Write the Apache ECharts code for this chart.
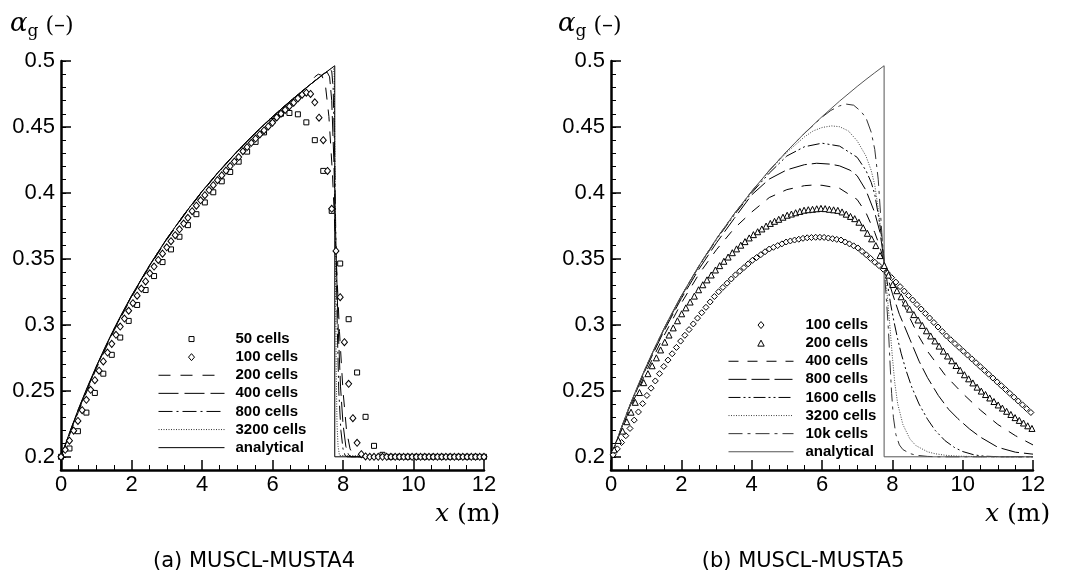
<!DOCTYPE html>
<html>
<head>
<meta charset="utf-8">
<script src="https://cdn.jsdelivr.net/npm/echarts/dist/echarts.min.js"></script>
<style>
  html, body { margin: 0; padding: 0; background: #fff; }
  #chart { width: 1067px; height: 574px; }
</style>
</head>
<body>
<div id="chart"></div>
<script>
// Water-faucet test: gas volume fraction along the pipe, two MUSCL-MUSTA schemes.

// Axis ticks
const yMajorTicks = [0.2, 0.25, 0.3, 0.35, 0.4, 0.45, 0.5];
const yMinorTicks = [];
for (let k = 19; k <= 50; k++) yMinorTicks.push(k / 100);

// Analytical profile (same in both panels)
const anX = [0, 0.25, 0.5, 0.75, 1, 1.25, 1.5, 1.75, 2, 2.5, 3, 3.5, 4, 4.5, 5, 5.5, 6, 6.5, 7, 7.25, 7.5, 7.766, 7.766, 12];
const anY = [0.2, 0.2189, 0.2366, 0.2531, 0.2685, 0.2831, 0.2968, 0.3098, 0.3220, 0.3447, 0.3653, 0.3840, 0.4012, 0.4170, 0.4316, 0.4452, 0.4578, 0.4696, 0.4807, 0.4860, 0.4911, 0.4964, 0.2, 0.2];

// ---- (a) MUSCL-MUSTA4 ----
const a50Dx = 0.24;
const a50 = [
  0.2000, 0.2063, 0.2194, 0.2335, 0.2484, 0.2630, 0.2773, 0.2904, 0.3030, 0.3151,
  0.3264, 0.3370, 0.3476, 0.3572, 0.3668, 0.3756, 0.3839, 0.3928, 0.4005, 0.4088,
  0.4159, 0.4237, 0.4313, 0.4387, 0.4459, 0.4545, 0.4600, 0.4606, 0.4596, 0.4535,
  0.4400, 0.4167, 0.3864, 0.3465, 0.3043, 0.2639, 0.2303, 0.2083, 0.2015, 0.2000,
  0.2000, 0.2000, 0.2000, 0.2000, 0.2000, 0.2000, 0.2000, 0.2000, 0.2000, 0.2000,
  0.2000
];
const a100Dx = 0.12;
const a100 = [
  0.2000, 0.2053, 0.2122, 0.2198, 0.2272, 0.2353, 0.2432, 0.2508, 0.2581, 0.2653,
  0.2723, 0.2790, 0.2856, 0.2925, 0.2987, 0.3048, 0.3107, 0.3164, 0.3221, 0.3275,
  0.3329, 0.3391, 0.3442, 0.3492, 0.3540, 0.3588, 0.3634, 0.3680, 0.3724, 0.3768,
  0.3811, 0.3862, 0.3903, 0.3944, 0.3983, 0.4022, 0.4059, 0.4097, 0.4133, 0.4169,
  0.4204, 0.4238, 0.4272, 0.4316, 0.4348, 0.4380, 0.4412, 0.4443, 0.4474, 0.4504,
  0.4533, 0.4572, 0.4601, 0.4629, 0.4657, 0.4684, 0.4716, 0.4745, 0.4760, 0.4750,
  0.4687, 0.4570, 0.4400, 0.4167, 0.3880, 0.3560, 0.3210, 0.2869, 0.2553, 0.2293,
  0.2106, 0.2020, 0.2003, 0.2000, 0.2000, 0.2000, 0.2000, 0.2000, 0.2000, 0.2000,
  0.2000, 0.2000, 0.2000, 0.2000, 0.2000, 0.2000, 0.2000, 0.2000, 0.2000, 0.2000,
  0.2000, 0.2000, 0.2000, 0.2000, 0.2000, 0.2000, 0.2000, 0.2000, 0.2000, 0.2000,
  0.2000
];
const a200 = [[0,0.2],[0.25,0.2170],[0.5,0.2345],[1,0.2668],[1.5,0.2954],[2,0.3208],[2.5,0.3437],[3,0.3645],[3.5,0.3833],[4,0.4006],[4.5,0.4165],[5,0.4312],[5.5,0.4449],[6,0.4575],[6.5,0.4694],[7,0.4806],[7.2,0.4880],[7.3,0.4900],[7.4,0.4890],[7.5,0.4820],[7.6,0.4580],[7.7,0.4150],[7.8,0.3550],[7.9,0.2950],[8.0,0.2500],[8.1,0.2200],[8.2,0.2060],[8.3,0.2010],[8.4,0.2000],[12,0.2]];
const a400 = [[0,0.2],[0.25,0.2180],[0.5,0.2356],[1,0.2677],[1.5,0.2962],[2,0.3215],[2.5,0.3443],[3,0.3650],[3.5,0.3837],[4,0.4010],[4.5,0.4168],[5,0.4314],[5.5,0.4451],[6,0.4577],[6.5,0.4695],[7,0.4806],[7.3,0.4872],[7.45,0.4905],[7.55,0.4915],[7.62,0.4880],[7.68,0.4700],[7.74,0.4250],[7.8,0.3600],[7.86,0.3000],[7.93,0.2530],[8.0,0.2250],[8.08,0.2080],[8.15,0.2020],[8.22,0.2000],[12,0.2]];
const a800 = [[0,0.2],[0.25,0.2186],[0.5,0.2362],[1,0.2682],[1.5,0.2966],[2,0.3218],[2.5,0.3445],[3,0.3652],[3.5,0.3839],[4,0.4011],[4.5,0.4169],[5,0.4315],[5.5,0.4452],[6,0.4578],[6.5,0.4696],[7,0.4807],[7.5,0.4910],[7.62,0.4932],[7.68,0.4925],[7.72,0.4800],[7.76,0.4350],[7.8,0.3600],[7.84,0.2950],[7.88,0.2500],[7.94,0.2200],[8.0,0.2060],[8.06,0.2010],[8.12,0.2000],[12,0.2]];
const a3200 = [[0,0.2],[0.5,0.2366],[1,0.2685],[1.5,0.2968],[2,0.3220],[2.5,0.3447],[3,0.3653],[3.5,0.3840],[4,0.4012],[4.5,0.4170],[5,0.4316],[5.5,0.4452],[6,0.4578],[6.5,0.4696],[7,0.4807],[7.5,0.4911],[7.72,0.4955],[7.75,0.4900],[7.77,0.4300],[7.79,0.3300],[7.81,0.2600],[7.83,0.2250],[7.86,0.2080],[7.9,0.2010],[7.95,0.2000],[12,0.2]];

// ---- (b) MUSCL-MUSTA5 ----
const b100X0 = 0.06, b100Dx = 0.12;
const b100 = [
  0.2015, 0.2060, 0.2108, 0.2160, 0.2215, 0.2278, 0.2340, 0.2403, 0.2465, 0.2520,
  0.2575, 0.2630, 0.2685, 0.2733, 0.2781, 0.2829, 0.2877, 0.2921, 0.2964, 0.3007,
  0.3051, 0.3092, 0.3133, 0.3174, 0.3215, 0.3251, 0.3284, 0.3316, 0.3348, 0.3379,
  0.3407, 0.3434, 0.3462, 0.3489, 0.3510, 0.3532, 0.3554, 0.3575, 0.3588, 0.3601,
  0.3614, 0.3628, 0.3636, 0.3643, 0.3649, 0.3656, 0.3660, 0.3662, 0.3664, 0.3664,
  0.3663, 0.3658, 0.3653, 0.3648, 0.3643, 0.3628, 0.3614, 0.3599, 0.3583, 0.3557,
  0.3531, 0.3504, 0.3475, 0.3449, 0.3422, 0.3392, 0.3358, 0.3324, 0.3290, 0.3256,
  0.3222, 0.3188, 0.3154, 0.3120, 0.3086, 0.3052, 0.3018, 0.2984, 0.2950, 0.2916,
  0.2887, 0.2858, 0.2829, 0.2800, 0.2771, 0.2742, 0.2713, 0.2684, 0.2655, 0.2626,
  0.2597, 0.2568, 0.2539, 0.2510, 0.2481, 0.2452, 0.2423, 0.2394, 0.2365, 0.2336
];
const b200X0 = 0.09, b200Dx = 0.12;
const b200 = [
  0.2053, 0.2124, 0.2195, 0.2266, 0.2338, 0.2413, 0.2487, 0.2562, 0.2630, 0.2690,
  0.2750, 0.2810, 0.2869, 0.2923, 0.2977, 0.3031, 0.3084, 0.3129, 0.3173, 0.3218,
  0.3266, 0.3304, 0.3341, 0.3378, 0.3416, 0.3449, 0.3482, 0.3514, 0.3547, 0.3576,
  0.3604, 0.3631, 0.3659, 0.3684, 0.3706, 0.3727, 0.3749, 0.3769, 0.3785, 0.3800,
  0.3816, 0.3831, 0.3840, 0.3850, 0.3860, 0.3869, 0.3873, 0.3876, 0.3880, 0.3883,
  0.3881, 0.3876, 0.3872, 0.3868, 0.3856, 0.3839, 0.3822, 0.3805, 0.3778, 0.3736,
  0.3694, 0.3652, 0.3601, 0.3525, 0.3450, 0.3377, 0.3306, 0.3259, 0.3213, 0.3166,
  0.3119, 0.3078, 0.3037, 0.2996, 0.2955, 0.2916, 0.2878, 0.2839, 0.2801, 0.2764,
  0.2728, 0.2692, 0.2656, 0.2622, 0.2591, 0.2560, 0.2528, 0.2498, 0.2472, 0.2446,
  0.2419, 0.2393, 0.2369, 0.2345, 0.2321, 0.2297, 0.2276, 0.2256, 0.2235, 0.2215
];
const b400 = [[0,0.2],[0.25,0.2175],[0.5,0.2340],[1,0.2645],[1.5,0.2915],[2,0.3165],[2.5,0.3385],[3,0.3570],[3.5,0.3730],[4,0.3855],[4.5,0.3965],[5,0.4025],[5.5,0.4055],[5.75,0.4060],[6,0.4058],[6.5,0.4035],[7,0.3950],[7.25,0.3850],[7.5,0.3700],[7.65,0.3590],[7.77,0.3470],[8,0.3345],[8.25,0.3200],[8.5,0.3050],[8.75,0.2915],[9,0.2800],[9.5,0.2620],[10,0.2480],[10.5,0.2355],[11,0.2245],[11.5,0.2160],[12,0.2090]];
const b800 = [[0,0.2],[0.25,0.2183],[0.5,0.2358],[1,0.2672],[1.5,0.2950],[2,0.3200],[2.5,0.3422],[3,0.3622],[3.5,0.3805],[4,0.3985],[4.5,0.4105],[5,0.4175],[5.5,0.4214],[5.85,0.4225],[6.25,0.4218],[6.5,0.4205],[6.8,0.4172],[7,0.4130],[7.25,0.4020],[7.5,0.3850],[7.65,0.3700],[7.77,0.3480],[7.9,0.3330],[8.0,0.3240],[8.2,0.3080],[8.35,0.2986],[8.5,0.2890],[8.76,0.2725],[9,0.2600],[9.31,0.2464],[9.6,0.2360],[9.86,0.2290],[10.2,0.2210],[10.5,0.2150],[11,0.2072],[11.5,0.2035],[12,0.2020]];
const b1600 = [[0,0.2],[0.25,0.2188],[0.5,0.2364],[1,0.2682],[1.5,0.2964],[2,0.3216],[2.5,0.3442],[3,0.3647],[3.5,0.3832],[4,0.4000],[4.5,0.4150],[5,0.4280],[5.5,0.4350],[6,0.4377],[6.5,0.4355],[7,0.4270],[7.25,0.4170],[7.4,0.4080],[7.5,0.3990],[7.6,0.3835],[7.7,0.3660],[7.77,0.3490],[7.85,0.3330],[7.95,0.3160],[8.05,0.3020],[8.15,0.2895],[8.25,0.2785],[8.39,0.2655],[8.55,0.2530],[8.76,0.2400],[9,0.2285],[9.22,0.2200],[9.5,0.2122],[9.77,0.2070],[10,0.2040],[10.32,0.2015],[10.6,0.2005],[11,0.2001],[12,0.2]];
const b3200 = [[0,0.2],[0.5,0.2366],[1,0.2685],[1.5,0.2968],[2,0.3220],[2.5,0.3447],[3,0.3653],[3.5,0.3839],[4,0.4010],[4.5,0.4167],[5,0.4308],[5.5,0.4425],[5.75,0.4470],[6,0.4496],[6.27,0.4508],[6.5,0.4502],[6.75,0.4470],[7,0.4395],[7.25,0.4280],[7.4,0.4170],[7.5,0.4060],[7.6,0.3880],[7.7,0.3640],[7.77,0.3480],[7.85,0.3240],[7.94,0.2960],[8.0,0.2760],[8.07,0.2560],[8.15,0.2405],[8.3,0.2245],[8.5,0.2135],[8.67,0.2085],[9,0.2038],[9.22,0.2023],[9.5,0.2012],[9.86,0.2005],[10.5,0.2001],[12,0.2]];
const b10k = [[0,0.2],[0.5,0.2366],[1,0.2685],[1.5,0.2968],[2,0.3220],[2.5,0.3447],[3,0.3653],[3.5,0.3840],[4,0.4012],[4.5,0.4170],[5,0.4316],[5.5,0.4451],[6,0.4574],[6.25,0.4625],[6.5,0.4660],[6.7,0.4673],[6.9,0.4665],[7.1,0.4620],[7.25,0.4570],[7.4,0.4460],[7.5,0.4330],[7.6,0.4100],[7.7,0.3700],[7.77,0.3420],[7.85,0.3120],[7.89,0.2957],[7.94,0.2680],[7.98,0.2480],[8.03,0.2300],[8.1,0.2170],[8.2,0.2090],[8.3,0.2055],[8.5,0.2025],[8.67,0.2012],[9,0.2003],[9.3,0.2],[12,0.2]];

// ---------- helpers ----------
const pairs = (xs, ys) => xs.map((x, i) => [x, ys[i]]);
const cells = (x0, dx, ys) => ys.map((y, i) => [+(x0 + i * dx).toFixed(3), y]);

function lineSeries(name, panel, data, dash, color) {
  return {
    type: 'line', name, xAxisIndex: panel, yAxisIndex: panel * 2, data,
    symbol: 'none', showSymbol: false, silent: true, z: 2,
    lineStyle: { color, width: 1, type: dash, cap: 'butt' },
    itemStyle: { color }
  };
}
function markerSeries(name, panel, data, symbol, size) {
  return {
    type: 'scatter', name, xAxisIndex: panel, yAxisIndex: panel * 2, data,
    symbol, symbolSize: size, symbolKeepAspect: true, silent: true, z: 3,
    itemStyle: { color: '#fff', borderColor: '#000', borderWidth: 1, opacity: 1 }
  };
}

const tickFont = { color: '#000', fontFamily: 'Liberation Sans, Arial, sans-serif', fontSize: 22 };
function xAxis(grid) {
  return {
    gridIndex: grid, type: 'value', min: 0, max: 12, interval: 2,
    axisLine: { show: true, onZero: false, lineStyle: { color: '#000', width: 2.5 } },
    axisTick: { show: true, inside: true, length: 10, lineStyle: { color: '#000', width: 1.5 } },
    minorTick: { show: true, splitNumber: 4, length: 5, lineStyle: { color: '#000', width: 1 } },
    splitLine: { show: false }, minorSplitLine: { show: false },
    axisLabel: Object.assign({ margin: 4 }, tickFont)
  };
}
function yAxes(grid) {
  return [{
    gridIndex: grid, type: 'value', position: 'left', min: 0.19, max: 0.5,
    axisLine: { show: true, onZero: false, lineStyle: { color: '#000', width: 2.5 } },
    axisTick: { show: true, inside: true, length: 10, customValues: yMajorTicks, lineStyle: { color: '#000', width: 1.5 } },
    axisLabel: Object.assign({ margin: 6, customValues: yMajorTicks, formatter: v => String(Math.round(v * 100) / 100) }, tickFont),
    splitLine: { show: false }
  }, {
    gridIndex: grid, type: 'value', position: 'left', min: 0.19, max: 0.5,
    axisLine: { show: false },
    axisTick: { show: true, inside: true, length: 5, customValues: yMinorTicks, lineStyle: { color: '#000', width: 1 } },
    axisLabel: { show: false },
    splitLine: { show: false }
  }];
}

// Legend keys: marker glyphs are drawn as small paths centred in the key box
const KEY_H = 7;
function keyIcon(w, shape) {
  const c = w / 2;
  const frame = `M0,0M${w},${KEY_H}`;
  if (shape === 'rect') return `path://${frame}M${c - 2.5},1L${c + 2.5},1L${c + 2.5},6L${c - 2.5},6Z`;
  if (shape === 'diamond') return `path://${frame}M${c},0L${c + 3},3.5L${c},7L${c - 3},3.5Z`;
  return `path://${frame}M${c},0.5L${c + 3.2},6.5L${c - 3.2},6.5Z`;
}
const stripPanel = n => n.replace(/ \([ab]\)$/, '');
const legendBase = {
  orient: 'vertical', itemHeight: KEY_H, itemGap: 0, padding: 0, selectedMode: false,
  formatter: stripPanel,
  lineStyle: { width: 1 }, itemStyle: { borderWidth: 1 },
  textStyle: { fontFamily: 'Liberation Sans, Arial, sans-serif', fontWeight: 'bold', fontSize: 15, color: '#000', lineHeight: 18.1 }
};
const lineItem = name => ({ name, itemStyle: { opacity: 0 } });
const markItem = (name, w, shape) => ({ name, icon: keyIcon(w, shape) });

const series = [
  // panel (a)
  lineSeries('200 cells (a)', 0, a200, [12, 10], '#000'),
  lineSeries('400 cells (a)', 0, a400, [20, 6], '#000'),
  lineSeries('800 cells (a)', 0, a800, [14, 4, 2, 4], '#000'),
  lineSeries('3200 cells (a)', 0, a3200, [1, 1.5], '#333'),
  lineSeries('analytical (a)', 0, pairs(anX, anY), 'solid', '#000'),
  markerSeries('50 cells (a)', 0, cells(0, a50Dx, a50), 'rect', 5),
  markerSeries('100 cells (a)', 0, cells(0, a100Dx, a100), 'diamond', [6, 7]),
  // panel (b)
  lineSeries('400 cells (b)', 1, b400, [10, 9], '#000'),
  lineSeries('800 cells (b)', 1, b800, [18, 5], '#000'),
  lineSeries('1600 cells (b)', 1, b1600, [12, 3, 2, 3, 2, 3], '#000'),
  lineSeries('3200 cells (b)', 1, b3200, [1, 1.5], '#444'),
  lineSeries('10k cells (b)', 1, b10k, [14, 5, 3, 5], '#333'),
  lineSeries('analytical (b)', 1, pairs(anX, anY), 'solid', '#555'),
  markerSeries('100 cells (b)', 1, cells(b100X0, b100Dx, b100), 'diamond', [6, 6]),
  markerSeries('200 cells (b)', 1, cells(b200X0, b200Dx, b200), 'triangle', 6)
];

const serif = 'DejaVu Serif, Liberation Serif, serif';
function yName(x) {
  return {
    type: 'text', x, y: 40, silent: true,
    style: {
      text: '{a|α}{g|g}{p| (–)}', verticalAlign: 'bottom', align: 'left', fill: '#000',
      rich: {
        a: { fontFamily: serif, fontStyle: 'italic', fontSize: 26, padding: [0, 0, 3, 0], verticalAlign: 'bottom' },
        g: { fontFamily: serif, fontSize: 17, verticalAlign: 'bottom' },
        p: { fontFamily: serif, fontSize: 22, padding: [0, 0, 3, 0], verticalAlign: 'bottom' }
      }
    }
  };
}
function xName(x) {
  return {
    type: 'text', x, y: 514, silent: true,
    style: {
      text: '{x|x}{m| (m)}', verticalAlign: 'middle', align: 'left', fill: '#000',
      rich: {
        x: { fontFamily: serif, fontStyle: 'italic', fontSize: 25 },
        m: { fontFamily: serif, fontSize: 25 }
      }
    }
  };
}
function caption(x, text) {
  return {
    type: 'text', x, y: 562, silent: true,
    style: { text, align: 'center', verticalAlign: 'middle', fill: '#000', font: '21px "DejaVu Sans", sans-serif' }
  };
}

const option = {
  animation: false,
  backgroundColor: '#fff',
  grid: [
    { left: 61, top: 61, width: 423, height: 409, outerBoundsMode: 'none' },
    { left: 611, top: 61, width: 422, height: 409, outerBoundsMode: 'none' }
  ],
  xAxis: [xAxis(0), xAxis(1)],
  yAxis: yAxes(0).concat(yAxes(1)),
  legend: [
    Object.assign({}, legendBase, {
      left: 158, top: 330, itemWidth: 66,
      textStyle: Object.assign({}, legendBase.textStyle, { padding: [0, 0, 0, 6] }),
      data: [markItem('50 cells (a)', 66, 'rect'), markItem('100 cells (a)', 66, 'diamond'),
             lineItem('200 cells (a)'), lineItem('400 cells (a)'),
             lineItem('800 cells (a)'), lineItem('3200 cells (a)'), lineItem('analytical (a)')]
    }),
    Object.assign({}, legendBase, {
      left: 728, top: 316, itemWidth: 65,
      textStyle: Object.assign({}, legendBase.textStyle, { padding: [0, 0, 0, 7] }),
      data: [markItem('100 cells (b)', 65, 'diamond'), markItem('200 cells (b)', 65, 'triangle'),
             lineItem('400 cells (b)'), lineItem('800 cells (b)'),
             lineItem('1600 cells (b)'), lineItem('3200 cells (b)'), lineItem('10k cells (b)'), lineItem('analytical (b)')]
    })
  ],
  graphic: [yName(10), yName(558), xName(435), xName(985),
            caption(254, '(a) MUSCL-MUSTA4'), caption(803, '(b) MUSCL-MUSTA5')],
  series
};

const chart = echarts.init(document.getElementById('chart'), null, { renderer: 'canvas' });
chart.setOption(option);
</script>
</body>
</html>
